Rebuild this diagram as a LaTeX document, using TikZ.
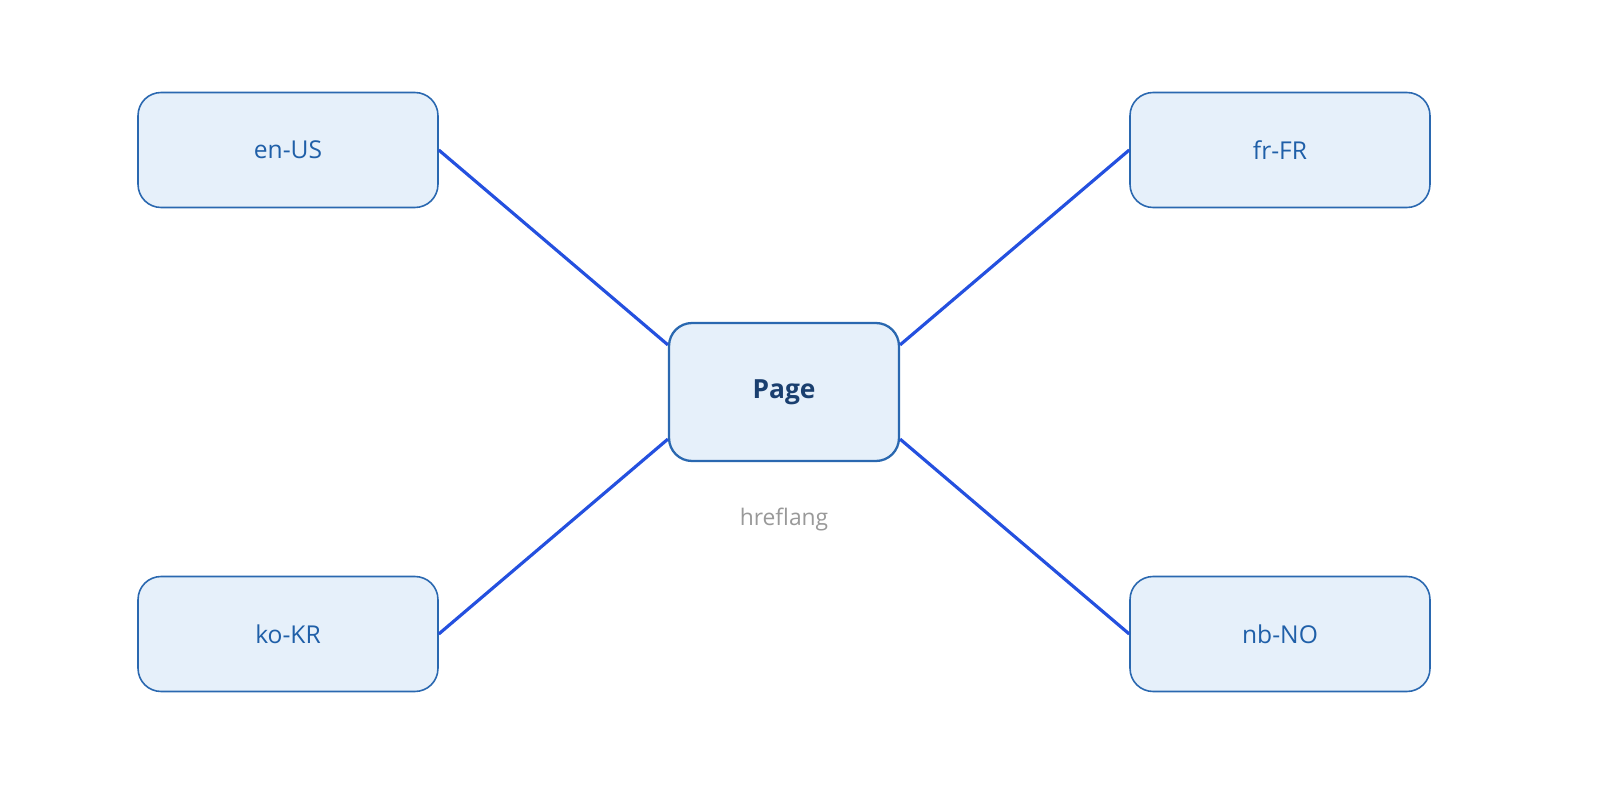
\documentclass[tikz,border=0pt]{standalone}
\usepackage{fontspec}
\setmainfont{Open Sans}
\definecolor{boxline}{HTML}{2A68B0}
\definecolor{boxfill}{HTML}{E6F0FA}
\definecolor{boxtext}{HTML}{1F5FA8}
\definecolor{pagetext}{HTML}{1A3F6F}
\definecolor{linkc}{HTML}{2450DF}
\begin{document}
\begin{tikzpicture}[x=0.02cm,y=-0.02cm,
  box/.style={draw=boxline,fill=boxfill,rounded corners=0.46cm,line width=0.9pt,minimum width=6cm,minimum height=2.3cm,inner sep=0pt,text=boxtext,font=\fontsize{14}{16}\selectfont},
  link/.style={draw=linkc,line width=1.8pt}]
\node[box] (en) at (288,150) {en-US};
\node[box] (fr) at (1280,150) {fr-FR};
\node[box] (ko) at (288,634) {ko-KR};
\node[box] (nb) at (1280,634) {nb-NO};
\node[box,minimum width=4.6cm,minimum height=2.76cm,line width=1.3pt,text=pagetext,font=\fontsize{15}{18}\selectfont\bfseries] (p) at (784,392) {Page};
\node[text=gray!80,font=\fontsize{13}{16}\selectfont] (h) at (784,520) {hreflang};
\coordinate (p1) at ([yshift=-0.46cm]p.north west);
\coordinate (p2) at ([yshift=-0.46cm]p.north east);
\coordinate (p3) at ([yshift=0.46cm]p.south west);
\coordinate (p4) at ([yshift=0.46cm]p.south east);
\draw[link] (en.east) -- (p1);
\draw[link] (fr.west) -- (p2);
\draw[link] (ko.east) -- (p3);
\draw[link] (nb.west) -- (p4);
\pgfresetboundingbox
\useasboundingbox (0,0) rectangle (1600,800);
\end{tikzpicture}
\end{document}
